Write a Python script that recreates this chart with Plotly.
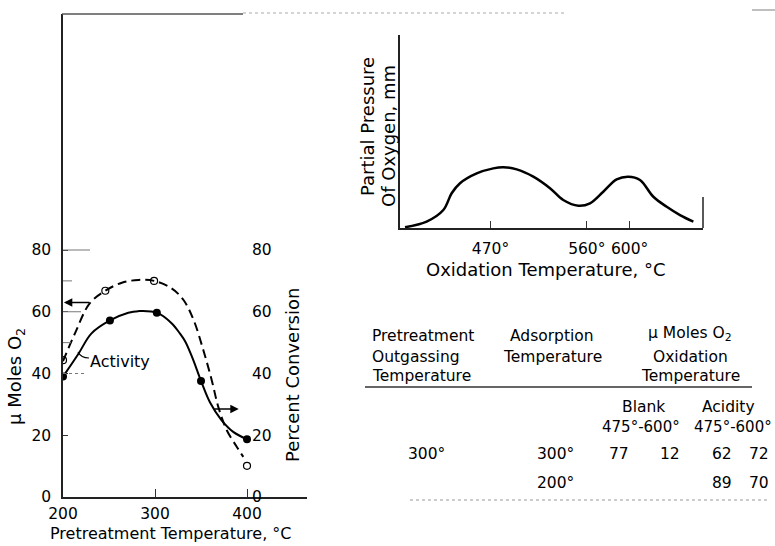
import plotly.graph_objects as go

W, H = 775, 546
FONT = "DejaVu Sans"

# ---------------- data: left chart ----------------
pretreat_ticks = [200, 300, 400]
y_ticks = [0, 20, 40, 60, 80]

# Activity (percent conversion, solid, filled points)
act_pts_t = [200, 251, 302, 350, 400]
act_pts_v = [39, 57.2, 59.7, 37.6, 18.7]
act_curve_t = [200, 217, 231, 251, 271, 282, 302, 318, 327, 333, 341, 350, 360, 372, 385, 400]
act_curve_v = [39, 46.5, 53, 57.2, 59.7, 60.2, 59.7, 56.3, 53, 50.3, 44.8, 37.6, 30.5, 25, 21.1, 18.7]

# micro moles O2 (dashed, open points)
o2_pts_t = [200, 246, 299, 400]
o2_pts_v = [44.3, 66.8, 70, 10.1]
o2_curve_t = [200, 213, 229, 246, 264, 282, 299, 318, 331, 342, 352.5, 361.6, 368.8, 377.9, 388.8, 396]
o2_curve_v = [44, 53, 62.7, 66.8, 69.4, 70.3, 70, 67.6, 63.8, 57.3, 47.6, 37.9, 29.2, 21.7, 16.3, 13]

# ---------------- data: inset (oxidation) ----------------
ox_ticks = [470, 560, 600]
ox_ticktext = ["470°", "560°", "600°"]
ox_t = [390.1, 410.3, 425.9, 433.7, 441.5, 457.1, 472.6, 482.0, 494.5, 510.0, 525.6, 538.0,
        552.1, 563.0, 575.4, 587.9, 598.8, 609.7, 622.2, 634.7, 647.1, 659.6]
ox_p = [0.04, 0.33, 0.93, 1.80, 2.32, 2.83, 3.09, 3.15, 3.04, 2.66, 2.06, 1.45,
        1.155, 1.28, 1.88, 2.52, 2.66, 2.49, 1.62, 1.10, 0.67, 0.33]

# ---------------- data: table ----------------
hdr_outgas = ["Pretreatment", "Outgassing", "Temperature"]
hdr_adsorp = ["Adsorption", "Temperature"]
hdr_moles = ["μ Moles O<sub>2</sub>", "Oxidation", "Temperature"]
sub_groups = ["Blank", "Acidity"]
sub_ranges = ["475°-600°", "475°-600°"]
col_outgas = ["300°", ""]
col_adsorp = ["300°", "200°"]
col_blank475 = ["77", ""]
col_blank600 = ["12", ""]
col_acid475 = ["62", "89"]
col_acid600 = ["72", "70"]


def fx(px):
    return px / W


def fy(py):
    return 1 - py / H


# pixel geometry of the left chart
LX0, LX1 = 63, 307
LY0, LY1 = 497, 14
PX_PER_T = 0.92
PX_PER_V = 3.0875
xr = [200, 200 + (LX1 - LX0) / PX_PER_T]
yr = [0, (LY0 - LY1) / PX_PER_V]

# inset geometry
IX0, IX1, IY0, IY1 = 400, 703, 228, 35
ixr = [(IX0 + 12.4) / 1.070, (IX1 + 12.4) / 1.070]

fig = go.Figure()

fig.add_trace(go.Scatter(x=o2_curve_t, y=o2_curve_v, mode="lines", line_shape="spline",
                         line=dict(color="black", width=2, dash="9px,5px"),
                         xaxis="x", yaxis="y", hoverinfo="skip", showlegend=False))
fig.add_trace(go.Scatter(x=o2_pts_t, y=o2_pts_v, mode="markers",
                         marker=dict(symbol="circle-open", size=7, color="black", line=dict(width=1.2)),
                         xaxis="x", yaxis="y", showlegend=False))
fig.add_trace(go.Scatter(x=act_curve_t, y=act_curve_v, mode="lines", line_shape="spline",
                         line=dict(color="black", width=2),
                         xaxis="x", yaxis="y2", hoverinfo="skip", showlegend=False))
fig.add_trace(go.Scatter(x=act_pts_t, y=act_pts_v, mode="markers",
                         marker=dict(symbol="circle", size=8, color="black"),
                         xaxis="x", yaxis="y2", showlegend=False))
fig.add_trace(go.Scatter(x=ox_t, y=ox_p, mode="lines", line_shape="spline",
                         line=dict(color="black", width=2.5),
                         xaxis="x3", yaxis="y3", showlegend=False))

tickfont = dict(family=FONT, size=15.5, color="black")
insetfont = dict(family=FONT, size=15.5, color="black")
fig.update_layout(
    width=W, height=H, margin=dict(l=0, r=0, t=0, b=0, autoexpand=False),
    paper_bgcolor="white", plot_bgcolor="white", showlegend=False,
    xaxis=dict(domain=[fx(LX0), fx(LX1)], range=xr, anchor="y", automargin=False,
               tickvals=pretreat_ticks, ticks="inside", ticklen=8, tickcolor="#333", tickangle=0,
               showline=True, linecolor="#222", linewidth=1.5, showgrid=False, zeroline=False,
               tickfont=tickfont, ticklabelstandoff=2),
    yaxis=dict(domain=[fy(LY0), fy(LY1)], range=yr, anchor="x", automargin=False,
               tickvals=y_ticks, ticks="inside", ticklen=5, tickcolor="#333",
               showline=True, linecolor="#222", linewidth=1.5, showgrid=False, zeroline=False,
               tickfont=tickfont, ticklabelstandoff=7),
    yaxis2=dict(overlaying="y", anchor="free", position=fx(249), side="right", range=yr,
                automargin=False,
                tickvals=y_ticks, ticks="", showline=False, showgrid=False, zeroline=False,
                tickfont=tickfont, ticklabelstandoff=2),
    xaxis3=dict(domain=[fx(IX0), fx(IX1)], range=ixr, anchor="y3", automargin=False,
                tickvals=ox_ticks, ticktext=ox_ticktext, ticks="inside", ticklen=7, tickcolor="#333",
                tickangle=0,
                showline=True, linecolor="#222", linewidth=1.5, showgrid=False, zeroline=False,
                tickfont=insetfont, ticklabelstandoff=6),
    yaxis3=dict(domain=[fy(IY0), fy(IY1)], range=[0, 10], anchor="x3", automargin=False,
                showticklabels=False, ticks="", showline=True, linecolor="#222", linewidth=1.5,
                showgrid=False, zeroline=False),
)

shapes = []
# top frame line
shapes.append(dict(type="line", xref="paper", yref="paper", x0=fx(62), x1=fx(243), y0=fy(14), y1=fy(14),
                   line=dict(color="#555", width=1.5)))
shapes.append(dict(type="line", xref="paper", yref="paper", x0=fx(243), x1=fx(565), y0=fy(13), y1=fy(13),
                   line=dict(color="#aaa", width=1.2, dash="dot")))
shapes.append(dict(type="line", xref="paper", yref="paper", x0=fx(752), x1=fx(775), y0=fy(10), y1=fy(10),
                   line=dict(color="#aaa", width=1.5)))
# faint stubs on the left axis
for v, ln, d in [(80, 27, "solid"), (70, 12, "dash"), (60, 18, "solid"), (50, 8, "solid"), (40, 22, "dot")]:
    shapes.append(dict(type="line", xref="paper", yref="y", x0=fx(LX0), x1=fx(LX0 + ln), y0=v, y1=v,
                       line=dict(color="#777", width=1, dash=d)))
# inset right end line
shapes.append(dict(type="line", xref="x3 domain", yref="y3", x0=1, x1=1, y0=0, y1=1.6,
                   line=dict(color="#222", width=1.5)))
# Activity leader line
shapes.append(dict(type="path", xref="paper", yref="paper",
                   path=f"M {fx(78)},{fy(352)} Q {fx(81)},{fy(358)} {fx(89)},{fy(358)}",
                   line=dict(color="black", width=1.2)))
# table rules
shapes.append(dict(type="line", xref="paper", yref="paper", x0=fx(365), x1=fx(752), y0=fy(387), y1=fy(387),
                   line=dict(color="#333", width=1.4)))
shapes.append(dict(type="line", xref="paper", yref="paper", x0=fx(410), x1=fx(770), y0=fy(500), y1=fy(500),
                   line=dict(color="#999", width=1.2, dash="dot")))
fig.update_layout(shapes=shapes)

ann = []


def txt(s, px, py, xanchor="center", size=15.5, angle=0):
    ann.append(dict(text=s, x=fx(px), y=fy(py), xref="paper", yref="paper", showarrow=False,
                    xanchor=xanchor, yanchor="middle", textangle=angle,
                    font=dict(family=FONT, size=size, color="black")))


# axis titles
txt("Pretreatment Temperature, °C", 170, 533, size=16)
txt("μ Moles O<sub>2</sub>", 16, 377, size=18, angle=-90)
txt("Percent Conversion", 292, 375, size=18, angle=-90)
txt("Activity", 88, 361, xanchor="left", size=16)
txt("Oxidation Temperature, °C", 546, 269, size=18)
txt("Partial Pressure", 367, 127, size=18, angle=-90)
txt("Of Oxygen, mm", 388, 136, size=18, angle=-90)

# arrows
ann.append(dict(x=201, y=63, ax=230, ay=63, xref="x", yref="y", axref="x", ayref="y", text="",
                showarrow=True, arrowhead=2, arrowsize=1.2, arrowwidth=1.4, arrowcolor="black"))
ann.append(dict(x=391, y=28.5, ax=363, ay=28.5, xref="x", yref="y", axref="x", ayref="y", text="",
                showarrow=True, arrowhead=2, arrowsize=1.2, arrowwidth=1.4, arrowcolor="black"))

# table header
for s, py in zip(hdr_outgas, [336, 357, 376]):
    txt(s, 370, py, xanchor="left")
for s, py in zip(hdr_adsorp, [336, 357]):
    txt(s, 552, py)
for s, py in zip(hdr_moles, [334, 357, 376]):
    txt(s, 690, py)
for s, px in zip(sub_groups, [643, 728]):
    txt(s, px, 407)
for s, px in zip(sub_ranges, [641, 733]):
    txt(s, px, 427, size=15)
# table body
for i, py in enumerate([454, 483]):
    for col, px in [(col_outgas, 426), (col_adsorp, 555), (col_blank475, 619), (col_blank600, 669.5),
                    (col_acid475, 722), (col_acid600, 759)]:
        if col[i]:
            txt(col[i], px, py)

fig.update_layout(annotations=ann)
fig.write_html("out.html")
